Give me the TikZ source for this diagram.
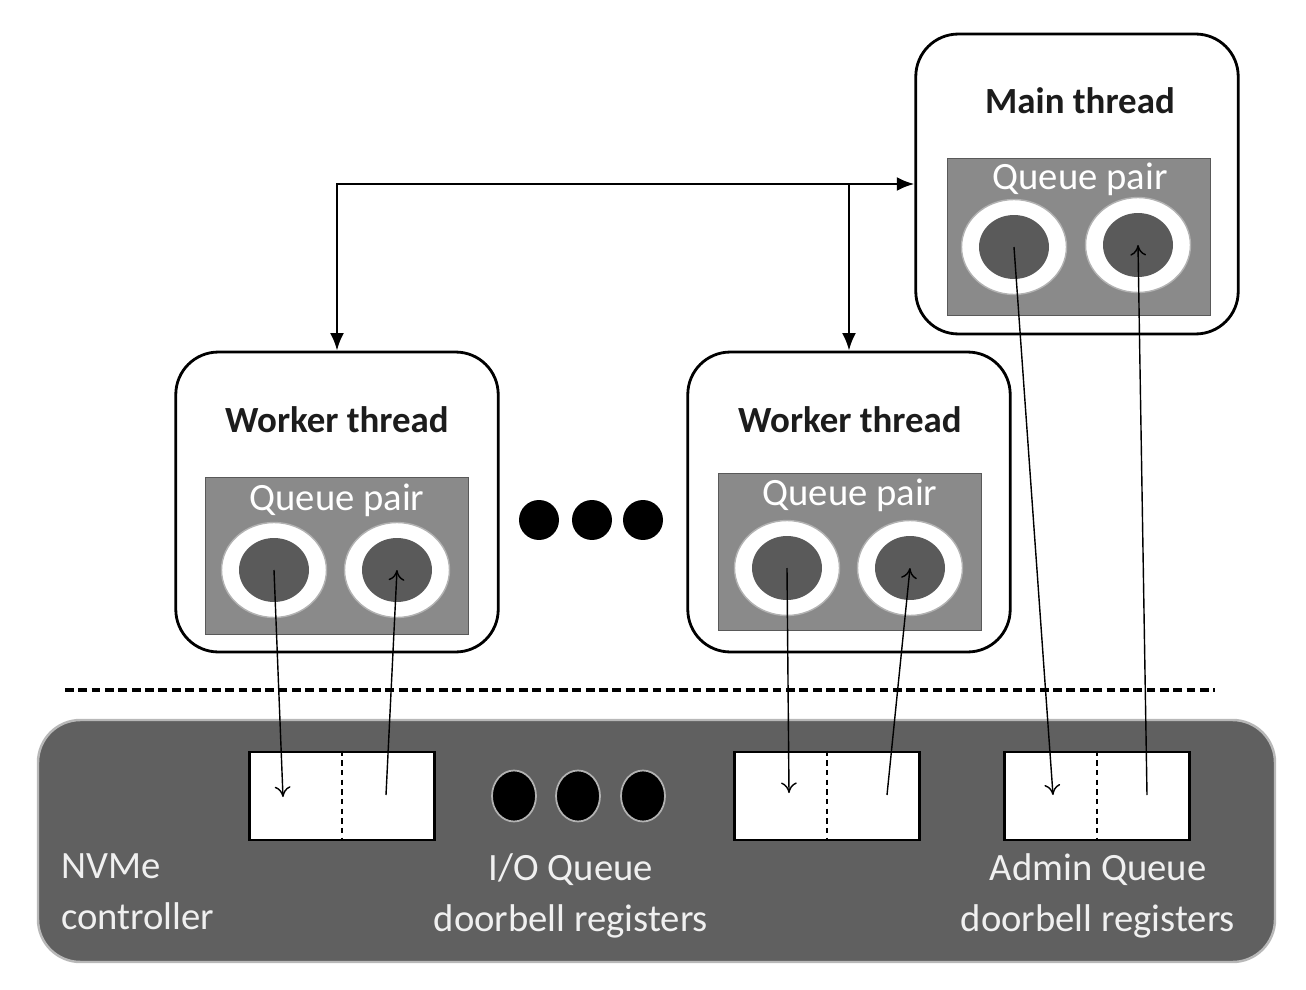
\documentclass[tikz,border=0pt]{standalone}
\usepackage{fontspec}
\setmainfont{Carlito}
\usetikzlibrary{shapes.geometric, arrows.meta, positioning}
\definecolor{qpgray}{HTML}{8A8A8A}
\definecolor{coregray}{HTML}{5A5A5A}
\definecolor{ctrlgray}{HTML}{606060}
\definecolor{titleink}{HTML}{1C1C1C}
\tikzset{bigtip/.tip={Latex[length=10pt, width=8pt]}}

\begin{document}
\begin{tikzpicture}[x=0.02cm, y=-0.02cm,
    thread/.style = {draw, rounded corners=0.85cm, line width=1.6pt,
                     fill=white, minimum width=6.45cm, minimum height=6.0cm},
    qpair/.style = {draw=black!65, fill=qpgray, line width=0.8pt,
                    minimum width=5.25cm, minimum height=3.15cm},
    ring/.style = {ellipse, draw=black!30, fill=white, line width=0.8pt,
                   minimum width=2.1cm, minimum height=1.9cm},
    core/.style = {ellipse, fill=coregray, minimum width=1.4cm,
                   minimum height=1.28cm},
    title/.style = {text=titleink, font=\fontsize{21}{25}\selectfont\bfseries},
    qtext/.style = {text=white, font=\fontsize{22}{26}\selectfont},
    ctext/.style = {text=white!94!black, font=\fontsize{22}{27}\selectfont,
                    align=center},
    reg/.style = {draw, fill=white, line width=1.6pt,
                  minimum width=3.7cm, minimum height=1.76cm},
    dot/.style = {ellipse, fill=black, minimum width=0.8cm,
                  minimum height=0.8cm, inner sep=0pt},
    bigarrow/.style = {line width=1.5pt},
    thinarrow/.style = {line width=0.8pt, -{To[length=6pt, width=9pt]}}]

    \useasboundingbox (0,0) rectangle (1306,990);

    % threads
    \node[thread] (main) at (1077,184) {};
    \node[thread] (w1) at (337,502) {};
    \node[thread] (w2) at (849,502) {};
    \node[title] (maint) at (1080,101) {Main thread};
    \node[title] (w1t) at (337,420) {Worker thread};
    \node[title] (w2t) at (850,420) {Worker thread};

    % queue pairs
    \node[qpair] (mq) at (1079,237) {};
    \node[qpair] (w1q) at (337,556) {};
    \node[qpair] (w2q) at (850,552) {};
    \node[qtext] at (1080,179) {Queue pair};
    \node[qtext] at (337,500) {Queue pair};
    \node[qtext] at (850,495) {Queue pair};

    \node[ring] at (1014,247) {};
    \node[core] (ma) at (1014,247) {};
    \node[ring] at (1138,245) {};
    \node[core] (mb) at (1138,245) {};
    \node[ring] at (274,570) {};
    \node[core] (w1a) at (274,570) {};
    \node[ring] at (397,570) {};
    \node[core] (w1b) at (397,570) {};
    \node[ring] at (787,568) {};
    \node[core] (w2a) at (787,568) {};
    \node[ring] at (910,568) {};
    \node[core] (w2b) at (910,568) {};

    % more workers
    \node[dot] (d1) at (539,520) {};
    \node[dot] (d2) at (592,520) {};
    \node[dot] (d3) at (643,520) {};

    % main thread <-> workers
    \draw[bigarrow, bigtip-bigtip] (w1.north) |- (main.west);
    \coordinate (split) at (w2.north |- main.west);
    \draw[bigarrow, -bigtip] (split) -- (w2.north);

    % host / device border
    \draw[line width=2pt, dash pattern=on 5pt off 2.6pt] (65,690) -- (1215,690);

    % controller
    \draw[draw=black!28, line width=1.4pt, fill=ctrlgray, rounded corners=0.85cm]
        (38,720) rectangle (1275,962);
    \node[ctext, align=left, anchor=west] (nvme) at (55,892) {NVMe\\[2pt]controller};
    \node[ctext] (iotxt) at (571,896) {I/O Queue\\[2pt]doorbell registers};
    \node[ctext] (admtxt) at (1098,896) {Admin Queue\\[2pt]doorbell registers};

    \node[reg] (r1) at (342,796) {};
    \node[reg] (r2) at (827,796) {};
    \node[reg] (r3) at (1097,796) {};
    \foreach \r in {r1, r2, r3}
        \draw[line width=1pt, dash pattern=on 3pt off 2.5pt] (\r.north) -- (\r.south);

    \node[dot, draw=white!70!black, line width=1pt, minimum width=0.88cm,
          minimum height=1.02cm] (e1) at (514,796) {};
    \node[dot, draw=white!70!black, line width=1pt, minimum width=0.88cm,
          minimum height=1.02cm] (e2) at (578,796) {};
    \node[dot, draw=white!70!black, line width=1pt, minimum width=0.88cm,
          minimum height=1.02cm] (e3) at (643,796) {};

    % queue pair <-> doorbells
    \coordinate (r1a) at (283,797);
    \coordinate (r1b) at (386,795);
    \coordinate (r2a) at (789,793);
    \coordinate (r2b) at (887,795);
    \coordinate (r3a) at (1053,795);
    \coordinate (r3b) at (1147,795);
    \draw[thinarrow] (w1a.center) -- (r1a);
    \draw[thinarrow] (r1b) -- (w1b.center);
    \draw[thinarrow] (w2a.center) -- (r2a);
    \draw[thinarrow] (r2b) -- (w2b.center);
    \draw[thinarrow] (ma.center) -- (r3a);
    \draw[thinarrow] (r3b) -- (mb.center);
\end{tikzpicture}
\end{document}
